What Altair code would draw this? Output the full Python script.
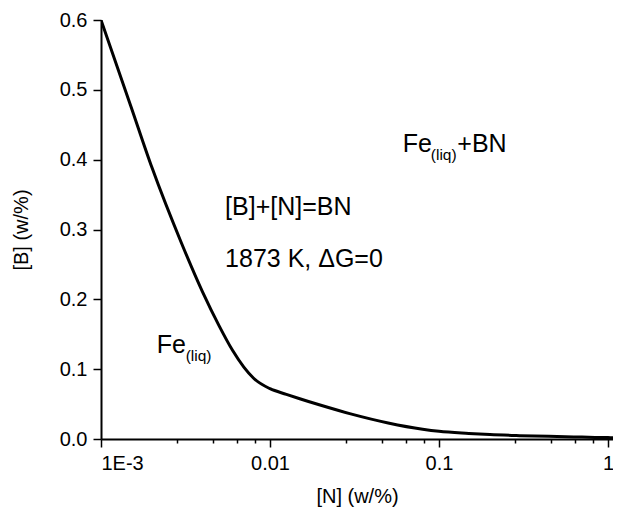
import altair as alt
import pandas as pd

# curve: [N] (w/%) vs [B] (w/%)
n_vals = [0.001, 0.0015, 0.002, 0.003, 0.004, 0.005, 0.006, 0.007, 0.008,
          0.01, 0.0125, 0.015, 0.02, 0.03, 0.05, 0.08, 0.1, 0.15, 0.2, 0.3, 0.5, 0.7, 1.0, 1.07]
b_vals = [0.6, 0.477, 0.389, 0.280, 0.210, 0.162, 0.127, 0.103, 0.087,
          0.072, 0.064, 0.0577, 0.0483, 0.036, 0.023, 0.014, 0.011, 0.008, 0.0063, 0.0048, 0.0035, 0.0027, 0.002, 0.0019]

x_tick_values = [0.001, 0.0028, 0.0046, 0.0064, 0.0082,
                 0.01, 0.028, 0.046, 0.064, 0.082,
                 0.1, 0.28, 0.46, 0.64, 0.82, 1.0]
y_tick_values = [0.0, 0.05, 0.1, 0.15, 0.2, 0.25, 0.3, 0.35, 0.4, 0.45, 0.5, 0.55, 0.6]

# annotations (text, N, B)
big_text = ["Fe", "+BN", "[B]+[N]=BN", "1873 K, \u0394G=0", "Fe"]
big_n = [0.0610, 0.1283, 0.005421, 0.005421, 0.002137]
big_b = [0.4112, 0.4112, 0.3209, 0.2468, 0.1232]
sub_text = ["(liq)", "(liq)"]
sub_n = [0.0894, 0.00317]
sub_b = [0.3997, 0.1117]

FONT = "Liberation Sans"

curve = pd.DataFrame({"N": n_vals, "B": b_vals})
big = pd.DataFrame({"t": big_text, "N": big_n, "B": big_b})
sub = pd.DataFrame({"t": sub_text, "N": sub_n, "B": sub_b})

xscale = alt.Scale(type="log", domain=[0.001, 1.07], nice=False)
yscale = alt.Scale(domain=[0, 0.6], nice=False, zero=False)

x_major = "abs(log(datum.value)/LN10 - round(log(datum.value)/LN10)) < 0.001"
y_major = "abs(datum.value*10 - round(datum.value*10)) < 0.001"

xaxis = alt.Axis(
    values=x_tick_values,
    title="[N] (w/%)",
    labelExpr=f"({x_major}) ? (datum.value < 0.002 ? '1E-3' : '' + datum.value) : ''",
    tickSize={"condition": {"test": x_major, "value": 8}, "value": 4},
    labelPadding=6, titlePadding=13, grid=False,
)
yaxis = alt.Axis(
    values=y_tick_values,
    title="[B] (w/%)",
    labelExpr=f"({y_major}) ? format(datum.value, '.1f') : ''",
    tickSize={"condition": {"test": y_major, "value": 8}, "value": 4},
    labelPadding=6, titlePadding=28, grid=False,
)

line = alt.Chart(curve).mark_line(color="black", strokeWidth=3, interpolate="monotone", clip=True).encode(
    x=alt.X("N:Q", scale=xscale, axis=xaxis),
    y=alt.Y("B:Q", scale=yscale, axis=yaxis),
)

big_txt = alt.Chart(big).mark_text(font=FONT, fontSize=25, align="left", baseline="alphabetic", color="black").encode(
    x=alt.X("N:Q", scale=xscale), y=alt.Y("B:Q", scale=yscale), text="t:N"
)
sub_txt = alt.Chart(sub).mark_text(font=FONT, fontSize=15.5, align="left", baseline="alphabetic", color="black").encode(
    x=alt.X("N:Q", scale=xscale), y=alt.Y("B:Q", scale=yscale), text="t:N"
)

chart = alt.layer(line, big_txt, sub_txt).properties(
    width=512, height=419,
    autosize=alt.AutoSizeParams(type="none"),
    padding={"left": 93, "top": 12, "right": 0, "bottom": 70},
).configure_view(stroke=None).configure_axis(
    domainColor="black", domainWidth=2, tickColor="black", tickWidth=1.5,
    labelFont=FONT, labelFontSize=20, labelColor="black",
    titleFont=FONT, titleFontSize=20, titleFontWeight="normal", titleColor="black",
)

chart.save("out.html", embed_options={"renderer": "svg", "actions": False})
